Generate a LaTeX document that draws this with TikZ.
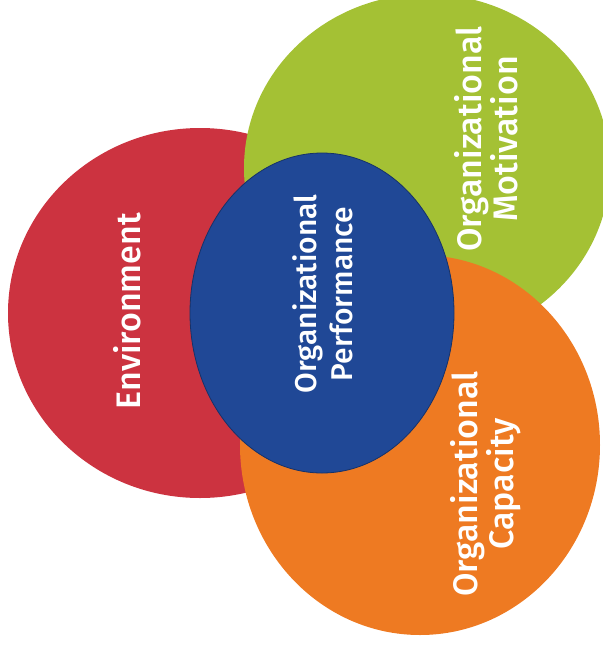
\documentclass[tikz,border=0pt]{standalone}
\usepackage{fontspec}
\setmainfont{Fira Sans}[UprightFont=* Medium]
\usetikzlibrary{shapes.geometric}

\definecolor{envred}{RGB}{204,51,64}
\definecolor{motgreen}{RGB}{164,193,52}
\definecolor{caporange}{RGB}{238,122,34}
\definecolor{perfblue}{RGB}{32,72,150}

\tikzset{
  bubble/.style={ellipse, inner sep=0pt, outer sep=0pt},
  caption/.style={text=white, rotate=90, align=center, inner sep=0pt,
    font=\fontsize{34}{36}\selectfont},
}

\begin{document}
\begin{tikzpicture}[x=1pt, y=-1pt]
\useasboundingbox (0,0) rectangle (603,649);
\clip (0,0) rectangle (603,649);
\node[bubble, fill=envred, minimum width=384pt, minimum height=370pt] (env) at (200,313) {};
\node[bubble, fill=motgreen, minimum width=366pt, minimum height=348pt] (mot) at (427,168) {};
\node[bubble, fill=caporange, minimum width=360pt, minimum height=380pt] (cap) at (420,445) {};
\node[bubble, fill=perfblue, draw=perfblue!70!black, line width=0.8pt, minimum width=264pt, minimum height=320pt] (perf) at (322,313) {};
\node[caption] (envtxt) at (127,311) {Environment};
\node[caption, font=\fontsize{30}{36}\selectfont] (perftxt) at (323,294) {Organizational\\Performance};
\node[caption] (mottxt) at (486,139) {Organizational\\Motivation};
\node[caption] (captxt) at (486,484) {Organizational\\Capacity};
\end{tikzpicture}
\end{document}
